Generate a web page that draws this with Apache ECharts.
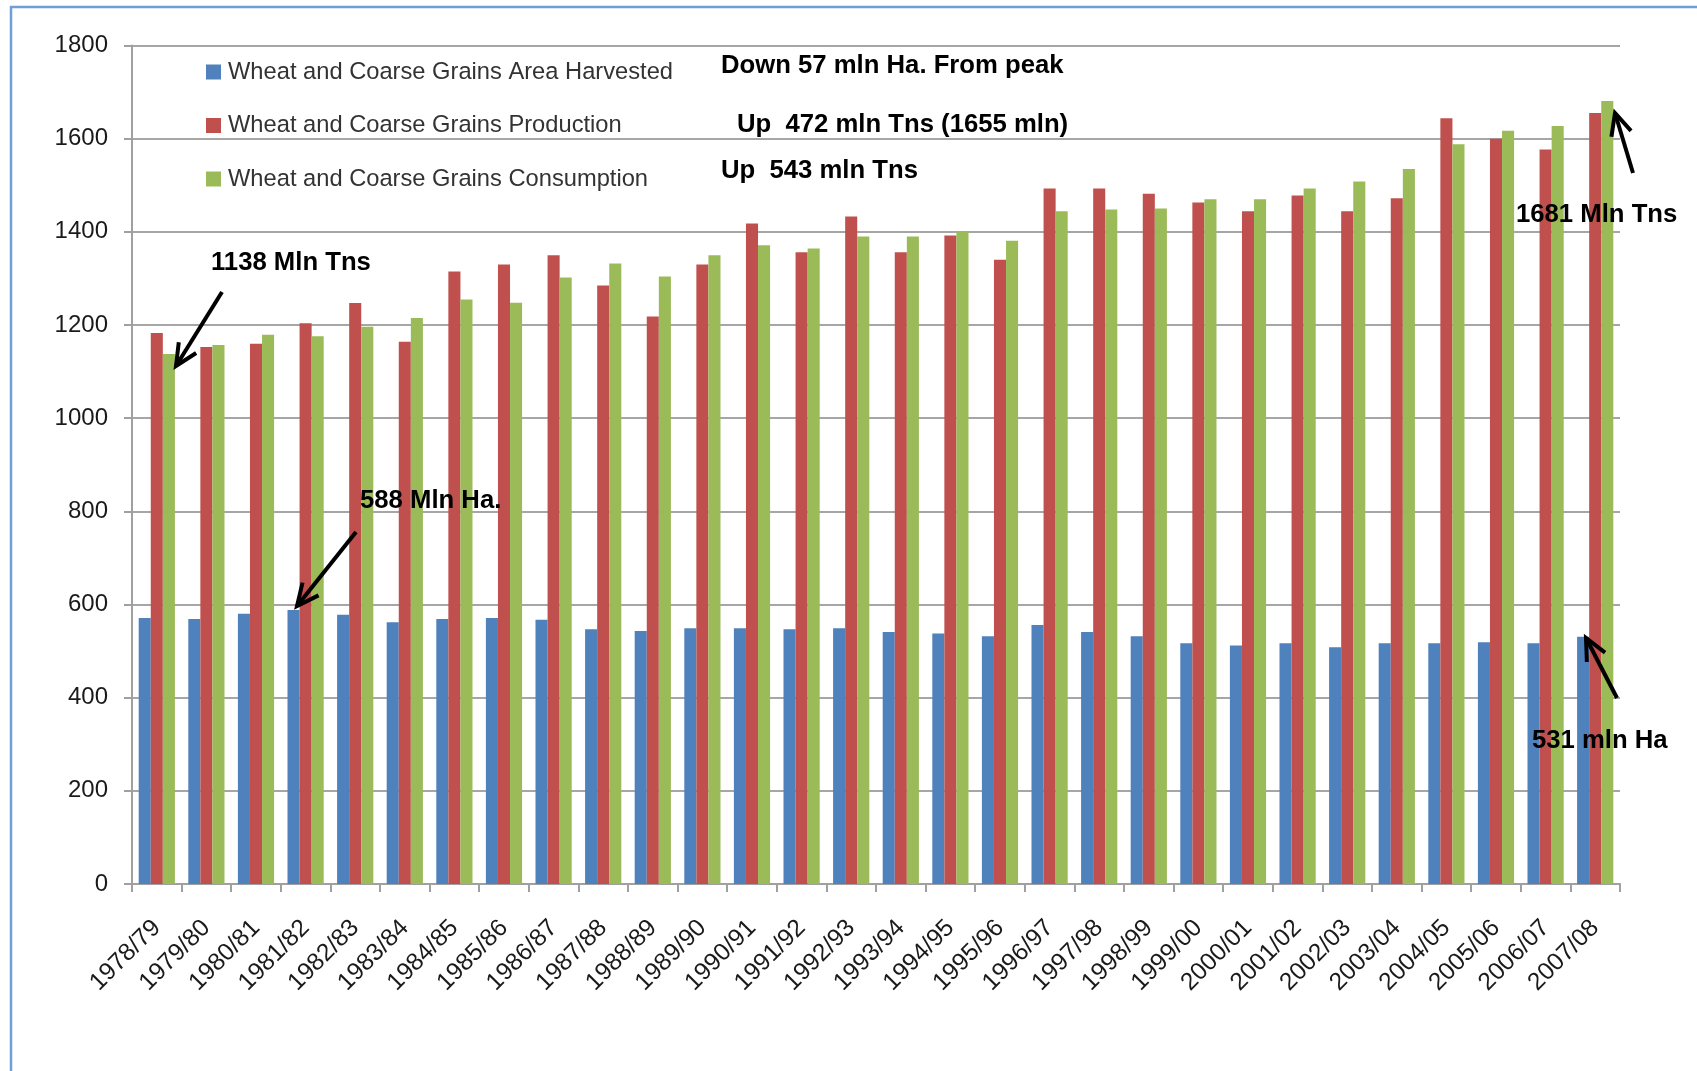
<!DOCTYPE html>
<html>
<head>
<meta charset="utf-8">
<title>Wheat and Coarse Grains</title>
<script src="https://cdn.jsdelivr.net/npm/echarts/dist/echarts.min.js"></script>
<style>
  html, body { margin: 0; padding: 0; background: #fff; }
  #chart { width: 1697px; height: 1071px; }
</style>
</head>
<body>
<div id="chart"></div>
<script>
// 年度
const categories = [
  '1978/79', '1979/80', '1980/81', '1981/82', '1982/83', '1983/84', '1984/85', '1985/86',
  '1986/87', '1987/88', '1988/89', '1989/90', '1990/91', '1991/92', '1992/93', '1993/94',
  '1994/95', '1995/96', '1996/97', '1997/98', '1998/99', '1999/00', '2000/01', '2001/02',
  '2002/03', '2003/04', '2004/05', '2005/06', '2006/07', '2007/08'
]
// 收获面积 (mln Ha)
const areaHarvested = [
  571, 569, 580, 588, 578, 562, 569, 571, 567, 547, 543, 549, 549, 547, 549, 541,
  538, 532, 556, 541, 532, 517, 512, 517, 508, 517, 517, 519, 517, 531
]
// 产量 (mln Tns)
const production = [
  1183, 1153, 1160, 1204, 1247, 1164, 1315, 1330, 1350, 1285, 1218, 1330, 1418, 1356, 1433, 1356,
  1392, 1340, 1493, 1493, 1482, 1463, 1444, 1478, 1444, 1472, 1644, 1600, 1577, 1655
]
// 消费量 (mln Tns)
const consumption = [
  1138, 1157, 1179, 1176, 1196, 1215, 1255, 1248, 1302, 1332, 1304, 1350, 1371, 1364, 1390, 1390,
  1400, 1381, 1444, 1448, 1450, 1470, 1470, 1493, 1508, 1535, 1588, 1617, 1627, 1681
]
const seriesNames = [
  'Wheat and Coarse Grains Area Harvested',
  'Wheat and Coarse Grains Production',
  'Wheat and Coarse Grains Consumption'
]

const FONT = '"Liberation Sans", Arial, sans-serif'

// 箭头：直线 + 两翼
const arrow = (x1, y1, x2, y2) => {
  const a = Math.atan2(y2 - y1, x2 - x1)
  const L = 24, w = 0.44
  const p1 = [x2 - L * Math.cos(a - w), y2 - L * Math.sin(a - w)]
  const p2 = [x2 - L * Math.cos(a + w), y2 - L * Math.sin(a + w)]
  return [
    { type: 'line', z: 100, shape: { x1, y1, x2, y2 }, style: { stroke: '#000', lineWidth: 4 } },
    { type: 'polyline', z: 100, shape: { points: [p1, [x2, y2], p2] }, style: { stroke: '#000', lineWidth: 4, fill: null } }
  ]
}
const note = (text, x, y) => ({
  type: 'text', z: 100, x, y,
  style: { text, fill: '#000', fontSize: 25.7, fontWeight: 'bold', fontFamily: FONT, verticalAlign: 'middle' }
})

const myChart = echarts.init(document.getElementById('chart'))
const option = {
  backgroundColor: '#fff',
  animation: false,
  color: ['#4f81bd', '#c0504d', '#9bbb59'],
  grid: { left: 132, right: 77, top: 45.5, bottom: 187, outerBoundsMode: 'none' },
  legend: {
    data: seriesNames,
    orient: 'vertical',
    left: 201,
    top: 54,
    icon: 'rect',
    itemWidth: 15,
    itemHeight: 15,
    itemGap: 27.5,
    selectedMode: false,
    textStyle: { fontSize: 23.7, lineHeight: 26, color: '#333', fontFamily: FONT, padding: [0, 0, 0, 2] }
  },
  xAxis: {
    type: 'category',
    data: categories,
    boundaryGap: true,
    axisLine: { lineStyle: { color: '#a0a0a0', width: 2 } },
    axisTick: { show: true, length: 8, interval: 0, lineStyle: { color: '#a0a0a0', width: 2 } },
    axisLabel: {
      interval: 0,
      rotate: 45,
      margin: 40,
      fontSize: 24.5,
      color: '#1a1a1a',
      fontFamily: FONT
    }
  },
  yAxis: {
    type: 'value',
    min: 0,
    max: 1800,
    interval: 200,
    axisLine: { show: true, lineStyle: { color: '#a0a0a0', width: 2 } },
    axisTick: { show: true, length: 8, lineStyle: { color: '#a0a0a0', width: 2 } },
    splitLine: { lineStyle: { color: '#a6a6a6', width: 2 } },
    axisLabel: { margin: 24, fontSize: 24, color: '#1a1a1a', fontFamily: FONT, formatter: (v) => String(v) }
  },
  series: [
    { name: seriesNames[0], type: 'bar', data: areaHarvested, barGap: '0%', barCategoryGap: '27%' },
    { name: seriesNames[1], type: 'bar', data: production, barGap: '0%', barCategoryGap: '27%' },
    { name: seriesNames[2], type: 'bar', data: consumption, barGap: '0%', barCategoryGap: '27%' }
  ],
  graphic: [
    // 外框
    { type: 'rect', z: 0, silent: true, shape: { x: 11, y: 7, width: 1800, height: 1200 }, style: { stroke: '#6f9fd8', lineWidth: 2.5, fill: null } },
    note('Down 57 mln Ha. From peak', 721, 66),
    note('Up  472 mln Tns (1655 mln)', 737, 125),
    note('Up  543 mln Tns', 721, 171),
    note('1138 Mln Tns', 211, 263),
    note('588 Mln Ha.', 360, 501),
    note('1681 Mln Tns', 1516, 215),
    note('531 mln Ha', 1532, 741),
    ...arrow(222, 292, 176, 366),
    ...arrow(356, 532, 297, 606),
    ...arrow(1633, 173, 1615, 113),
    ...arrow(1617, 698, 1586, 638)
  ]
}
myChart.setOption(option)
</script>
</body>
</html>
